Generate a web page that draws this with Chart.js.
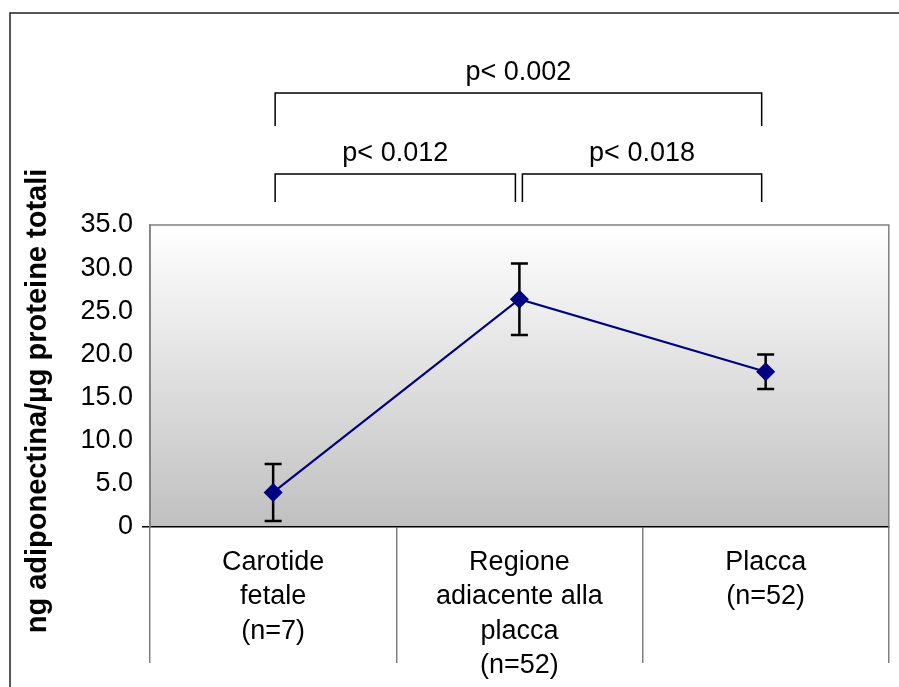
<!DOCTYPE html>
<html lang="it">

<head>
  <meta charset="UTF-8">
  <title>Adiponectina</title>
  <script src="https://cdn.jsdelivr.net/npm/chart.js"></script>
  <style>
    body { margin: 0; background: #fff; }
  </style>
</head>

<body>
  <canvas id="myChart" width="899" height="687"></canvas>

  <script>
    // data
    const categories = [
      ['Carotide', 'fetale', '(n=7)'],
      ['Regione', 'adiacente alla', 'placca', '(n=52)'],
      ['Placca', '(n=52)']
    ];
    const means = [4.0, 26.4, 18.0];
    const errors = [3.3, 4.15, 2.0];
    const yTickLabels = ['0', '5.0', '10.0', '15.0', '20.0', '25.0', '30.0', '35.0'];
    const yTitle = 'ng adiponectina/µg proteine totali';

    // significance brackets: from category, to category, label, level (1 = lower row)
    const brackets = [
      { from: 0, to: 1, label: 'p< 0.012', level: 1 },
      { from: 1, to: 2, label: 'p< 0.018', level: 1 },
      { from: 0, to: 2, label: 'p< 0.002', level: 2 }
    ];

    const FONT = "'Liberation Sans', Arial, sans-serif";

    // gray gradient behind the plot + frame + y title
    const plotBackground = {
      id: 'plotBackground',
      beforeDraw(chart) {
        const { ctx, chartArea: a } = chart;
        ctx.save();
        const g = ctx.createLinearGradient(0, a.top, 0, a.bottom);
        g.addColorStop(0, '#ffffff');
        g.addColorStop(1, '#c0c0c0');
        ctx.fillStyle = g;
        ctx.fillRect(a.left, a.top, a.right - a.left, a.bottom - a.top);
        ctx.restore();
      },
      afterDraw(chart) {
        const { ctx, chartArea: a } = chart;
        ctx.save();
        ctx.strokeStyle = '#808080';
        ctx.lineWidth = 1.5;
        ctx.beginPath();
        ctx.moveTo(a.left, a.bottom);
        ctx.lineTo(a.left, a.top);
        ctx.lineTo(a.right, a.top);
        ctx.lineTo(a.right, a.bottom);
        ctx.stroke();
        // outer frame (left and top edges only visible)
        ctx.strokeStyle = '#222';
        ctx.beginPath();
        ctx.moveTo(10, chart.height);
        ctx.lineTo(10, 13);
        ctx.lineTo(chart.width, 13);
        ctx.stroke();
        // rotated axis title
        ctx.translate(38, 401);
        ctx.rotate(-Math.PI / 2);
        ctx.fillStyle = '#000';
        ctx.font = 'bold 29px ' + FONT;
        ctx.textAlign = 'center';
        ctx.textBaseline = 'middle';
        ctx.fillText(yTitle, 0, 0);
        ctx.restore();
      }
    };

    // error bars under the markers
    const errorBars = {
      id: 'errorBars',
      beforeDatasetsDraw(chart) {
        const { ctx, scales: { x, y } } = chart;
        ctx.save();
        ctx.strokeStyle = '#000';
        ctx.lineWidth = 2.5;
        means.forEach((m, i) => {
          const px = x.getPixelForValue(i);
          const top = y.getPixelForValue(m + errors[i]);
          const bot = y.getPixelForValue(m - errors[i]);
          ctx.beginPath();
          ctx.moveTo(px, top); ctx.lineTo(px, bot);
          ctx.moveTo(px - 8.5, top); ctx.lineTo(px + 8.5, top);
          ctx.moveTo(px - 8.5, bot); ctx.lineTo(px + 8.5, bot);
          ctx.stroke();
        });
        ctx.restore();
      }
    };

    const sigBrackets = {
      id: 'sigBrackets',
      afterDraw(chart) {
        const { ctx, scales: { x } } = chart;
        const top = chart.chartArea.top;
        ctx.save();
        ctx.strokeStyle = '#000';
        ctx.lineWidth = 1.5;
        ctx.fillStyle = '#000';
        ctx.font = '27px ' + FONT;
        ctx.textAlign = 'center';
        ctx.textBaseline = 'middle';
        brackets.forEach(b => {
          let x1 = x.getPixelForValue(b.from) + 2;
          let x2 = x.getPixelForValue(b.to) - 4;
          if (b.level === 1 && b.from === 1) x1 += 1;
          const yLine = b.level === 1 ? top - 51 : top - 132;
          const yLeg = b.level === 1 ? top - 23 : top - 99;
          ctx.beginPath();
          ctx.moveTo(x1, yLeg);
          ctx.lineTo(x1, yLine);
          ctx.lineTo(x2, yLine);
          ctx.lineTo(x2, yLeg);
          ctx.stroke();
          ctx.fillText(b.label, (x1 + x2) / 2, yLine - 20);
        });
        ctx.restore();
      }
    };

    const data = {
      labels: categories,
      datasets: [{
        data: means,
        borderColor: '#000080',
        backgroundColor: '#000080',
        borderWidth: 2.2,
        pointStyle: 'rectRot',
        pointRadius: 8,
        pointHoverRadius: 8,
        tension: 0
      }]
    };

    const options = {
      responsive: false,
      animation: false,
      layout: { padding: { top: 225, right: 7, left: 80, bottom: 0 } },
      plugins: {
        legend: { display: false },
        tooltip: { enabled: false }
      },
      scales: {
        x: {
          offset: true,
          afterFit: s => { s.height = 160; },
          grid: {
            offset: true,
            drawOnChartArea: false,
            tickLength: 136,
            color: '#808080',
            lineWidth: 1.5
          },
          border: { color: '#000', width: 1.5 },
          ticks: {
            color: '#000',
            padding: -117,
            maxRotation: 0,
            autoSkip: false,
            font: { family: FONT, size: 27, lineHeight: 1.26 }
          }
        },
        y: {
          min: 0,
          max: 35,
          afterFit: s => { s.width = 70; },
          grid: {
            drawOnChartArea: false,
            tickLength: 8,
            color: c => (c.tick && c.tick.value === 0 ? '#000' : 'rgba(0,0,0,0)'),
            lineWidth: 1.5
          },
          border: { color: '#808080', width: 1.5 },
          ticks: {
            stepSize: 5,
            padding: 9,
            color: '#000',
            font: { family: FONT, size: 27 },
            callback: (v, i) => yTickLabels[i]
          }
        }
      }
    };

    const ctx = document.getElementById('myChart').getContext('2d');
    const myChart = new Chart(ctx, {
      type: 'line',
      data: data,
      options: options,
      plugins: [plotBackground, errorBars, sigBrackets]
    });
  </script>
</body>

</html>
